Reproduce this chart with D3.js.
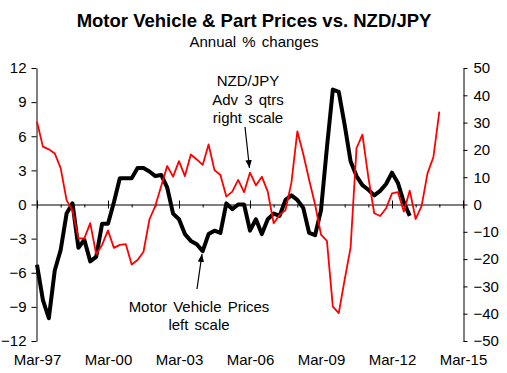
<!DOCTYPE html>
<html>
<head>
<meta charset="utf-8">
<script src="https://cdn.jsdelivr.net/npm/d3@7"></script>
<style>
    body { margin: 0; background: #fff; }
    svg text { font-family: "Liberation Sans", Arial, Helvetica, sans-serif; fill: #000; }
</style>
</head>
<body>
<script>
"use strict";
(function(){
    // tick labels
    const xTickLabels = ["Mar-97", "Mar-00", "Mar-03", "Mar-06", "Mar-09", "Mar-12", "Mar-15"]
    const leftTicks = [-12, -9, -6, -3, 0, 3, 6, 9, 12]
    const rightTicks = [-50, -40, -30, -20, -10, 0, 10, 20, 30, 40, 50]

    // quarterly series, first value = Mar-97
    const motorVehicle = [
        -5.3, -8.4, -10.0, -5.8, -4.0, -0.8, 0.1, -3.8, -3.1, -5.0, -4.6, -1.7,
        -1.7, 0.2, 2.3, 2.3, 2.3, 3.2, 3.2, 2.9, 2.5, 2.6, 1.5, -0.8,
        -1.3, -2.6, -3.2, -3.5, -4.1, -2.6, -2.3, -2.5, 0.1, -0.4, 0.0, 0.0,
        -2.3, -1.3, -2.6, -1.3, -0.8, -1.0, 0.4, 0.8, 0.4, -0.3, -2.5, -2.7,
        -0.5, 5.0, 10.1, 9.9, 7.0, 3.8, 2.5, 1.7, 1.3, 0.8, 1.2, 1.8,
        2.8, 1.9, 0.2, -1.0
    ]
    const nzdJpyAdv3 = [
        30.3, 21.2, 20.2, 18.7, 13.3, 1.6, -2.2, -12.4, -12.4, -6.8, -18.2, -14.8,
        -9.5, -15.9, -14.8, -14.5, -22.0, -20.3, -17.3, -5.5, -0.5, 6.8, 14.1, 10.2,
        15.9, 10.4, 18.3, 16.5, 14.5, 22.0, 12.6, 10.8, 2.9, 4.7, 9.0, 4.5,
        11.7, 7.0, 10.2, 4.7, -6.9, -3.8, -2.0, 8.0, 26.8, 18.5, 9.0, 0.0,
        -11.0, -13.3, -37.4, -39.8, -27.5, -15.8, 20.6, 25.6, 10.0, -3.2, -4.2, -1.4,
        4.1, 4.5, -2.6, 5.1, -5.3, -0.6, 11.4, 17.4, 34.0
    ]

    const measurements = { width: 507, height: 373, left: 37, right: 463, top: 68, bottom: 341 }
    const font = 15

    const svg = d3.select("body").append("svg")
        .attr("width", measurements.width)
        .attr("height", measurements.height)

    // quarter index scale: 0 = Mar-97, 72 = Mar-15
    const scaleX = d3.scaleLinear().domain([0, 72]).range([measurements.left, measurements.right])
    const scaleYL = d3.scaleLinear().domain([-12, 12]).range([measurements.bottom, measurements.top])
    const scaleYR = d3.scaleLinear().domain([-50, 50]).range([measurements.bottom, measurements.top])

    // title
    svg.append("text").attr("x", 254).attr("y", 27).attr("text-anchor", "middle")
        .style("font-size", "18.5px").style("font-weight", "bold")
        .text("Motor Vehicle & Part Prices vs. NZD/JPY")
    svg.append("text").attr("x", 254).attr("y", 46.5).attr("text-anchor", "middle")
        .style("font-size", font + "px").style("word-spacing", "2px")
        .text("Annual % changes")

    // left axis
    const leftAxis = svg.append("g")
        .attr("transform", "translate(" + (measurements.left - 0.5) + ",0)")
        .call(d3.axisLeft(scaleYL).tickValues(leftTicks).tickSize(5).tickSizeOuter(0).tickPadding(5))
    // right axis
    const rightAxis = svg.append("g")
        .attr("transform", "translate(" + (measurements.right + 0.5) + ",0)")
        .call(d3.axisRight(scaleYR).tickValues(rightTicks).tickSize(4).tickSizeOuter(0).tickPadding(6))
    ;[leftAxis, rightAxis].forEach(function(g) {
        g.selectAll("text").style("font-size", font + "px").attr("font-family", null)
        g.select(".domain").attr("stroke", "#000")
    })

    // zero line with yearly ticks
    const yearTicks = d3.range(0, 73, 4)
    const zeroAxis = svg.append("g")
        .attr("transform", "translate(0," + scaleYL(0) + ")")
        .call(d3.axisBottom(scaleX).tickValues(yearTicks).tickSize(3).tickSizeOuter(0).tickFormat(""))
    zeroAxis.selectAll(".tick line")
        .attr("y1", (d) => d % 12 === 0 ? -4 : 0)
        .attr("y2", (d) => d % 12 === 0 ? 4 : 3)

    // bottom labels
    const labelAxis = svg.append("g")
        .attr("transform", "translate(0," + measurements.bottom + ")")
        .call(d3.axisBottom(scaleX).tickValues(d3.range(0, 73, 12)).tickSize(0).tickPadding(13.5)
            .tickFormat((d, i) => xTickLabels[i]))
    labelAxis.select(".domain").remove()
    labelAxis.selectAll("text").style("font-size", font + "px").attr("font-family", null)

    // lines
    const lineL = d3.line().x((d, i) => scaleX(i)).y((d) => scaleYL(d))
    const lineR = d3.line().x((d, i) => scaleX(i)).y((d) => scaleYR(d))

    svg.append("path").datum(motorVehicle)
        .attr("d", lineL).attr("fill", "none").attr("stroke", "#000")
        .attr("stroke-width", 4).attr("stroke-linejoin", "round")
    svg.append("path").datum(nzdJpyAdv3)
        .attr("d", lineR).attr("fill", "none").attr("stroke", "#ff0000")
        .attr("stroke-width", 1.8).attr("stroke-linejoin", "round")

    // annotations
    svg.append("defs").append("marker")
        .attr("id", "arrow").attr("viewBox", "0 0 10 10")
        .attr("refX", 10).attr("refY", 5)
        .attr("markerWidth", 8).attr("markerHeight", 8)
        .attr("markerUnits", "userSpaceOnUse")
        .attr("orient", "auto")
        .append("path").attr("d", "M0,1 L10,5 L0,9 Z").attr("fill", "#000")

    function note(lines, x, y0) {
        lines.forEach(function(t, i) {
            svg.append("text").attr("x", x).attr("y", y0 + i * 18.5)
                .attr("text-anchor", "middle").style("font-size", font + "px")
                .style("word-spacing", "2px").text(t)
        })
    }
    note(["NZD/JPY", "Adv 3 qtrs", "right scale"], 248, 86)
    note(["Motor Vehicle Prices", "left scale"], 199, 311.5)

    svg.append("line").attr("x1", 245).attr("y1", 127).attr("x2", 249.5).attr("y2", 168)
        .attr("stroke", "#000").attr("stroke-width", 1.2).attr("marker-end", "url(#arrow)")
    svg.append("line").attr("x1", 197).attr("y1", 289).attr("x2", 202).attr("y2", 254)
        .attr("stroke", "#000").attr("stroke-width", 1.2).attr("marker-end", "url(#arrow)")
})()
</script>
</body>
</html>
